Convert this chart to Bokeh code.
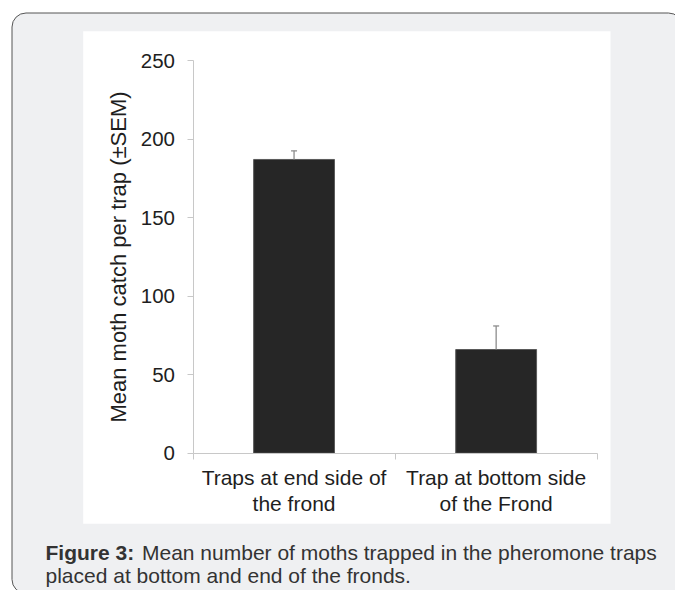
from bokeh.plotting import figure
from bokeh.models import (Range1d, FixedTicker, ColumnDataSource, Whisker, TeeHead,
                          BoxAnnotation, Label, LinearAxis)
from bokeh.embed import file_html
from bokeh.resources import INLINE

# ---- data ----
categories = ["Traps at end side of\nthe frond", "Trap at bottom side\nof the Frond"]
x_pos = [0.5, 1.5]
means = [187, 66]
sem = [5.5, 15]
y_ticks = [0, 50, 100, 150, 200, 250]
boundaries = [0, 1, 2]
y_label = "Mean moth catch per trap (±SEM)"
caption_bold = "Figure 3:"
caption_rest = "Mean number of moths trapped in the pheromone traps"
caption_line2 = "placed at bottom and end of the fronds."

W, H = 675, 590
FONT = "Liberation Sans"
AXIS_GRAY = "#c8c8c8"
TEXT = "#1e1e1e"

# The plot frame spans the whole canvas; the axes are pinned inside it.
# Chart area on the canvas: x 0..2 -> px 192.5..596.7, y 0..250 -> px 452.7..60
px_per_x = (596.7 - 192.5) / 2
px_per_y = (452.7 - 60.0) / 250
x0 = -192.5 / px_per_x
x1 = 2 + (W - 596.7) / px_per_x
y1 = 250 + 60.0 / px_per_y
y0 = -(H - 452.7) / px_per_y

p = figure(width=W, height=H, output_backend="svg", toolbar_location=None,
           x_range=Range1d(x0, x1), y_range=Range1d(y0, y1),
           x_axis_location=None, y_axis_location=None,
           min_border=0, min_border_left=0, min_border_right=0,
           min_border_top=0, min_border_bottom=0)
p.outline_line_color = None
p.grid.visible = False
p.border_fill_color = "white"
p.background_fill_color = "white"

# background panels
def canvas_box(l, r, t, b, **kw):
    return BoxAnnotation(left=l, right=r, top=t, bottom=b,
                         left_units="canvas", right_units="canvas",
                         top_units="canvas", bottom_units="canvas", **kw)

p.add_layout(canvas_box(11.5, 682, 12.5, 593, fill_color="#eff0f2", fill_alpha=1,
                        line_color="#555555", line_width=1, line_alpha=1,
                        border_radius=14, level="underlay"))
p.add_layout(canvas_box(82.7, 610, 30.7, 523.3, fill_color="white", fill_alpha=1,
                        line_color=None, level="underlay"))

# bars
src = ColumnDataSource(dict(x=x_pos, mean=means,
                            upper=[m + s for m, s in zip(means, sem)]))
p.vbar(x="x", top="mean", bottom=0, width=0.4, source=src,
       fill_color="#262626", line_color="#5a5a5a", line_width=1)

p.add_layout(Whisker(base="x", lower="mean", upper="upper", dimension="height",
                     source=src, line_color="#8c8c8c", line_width=1.3,
                     upper_head=TeeHead(size=6, line_color="#8c8c8c", line_width=1.3),
                     lower_head=None, level="glyph"))

# y axis
ya = LinearAxis(fixed_location=0, bounds=(0, 250))
ya.ticker = FixedTicker(ticks=y_ticks)
ya.axis_line_color = AXIS_GRAY
ya.major_tick_line_color = AXIS_GRAY
ya.major_tick_out = 6
ya.major_tick_in = 0
ya.minor_tick_line_color = None
ya.major_label_text_font = FONT
ya.major_label_text_font_size = "20.5px"
ya.major_label_text_color = TEXT
ya.major_label_standoff = 12
ya.axis_label = y_label
ya.axis_label_text_font = FONT
ya.axis_label_text_font_size = "22px"
ya.axis_label_text_font_style = "normal"
ya.axis_label_text_color = TEXT
ya.axis_label_standoff = 7
p.add_layout(ya, "left")

# x axis
xa = LinearAxis(fixed_location=0, bounds=(0, 2))
xa.ticker = FixedTicker(ticks=x_pos, minor_ticks=boundaries)
xa.major_label_overrides = {x: c for x, c in zip(x_pos, categories)}
xa.axis_line_color = AXIS_GRAY
xa.major_tick_line_color = None
xa.major_tick_out = 0
xa.major_tick_in = 0
xa.minor_tick_line_color = AXIS_GRAY
xa.minor_tick_out = 6
xa.minor_tick_in = 0
xa.major_label_text_font = FONT
xa.major_label_text_font_size = "21px"
xa.major_label_text_color = TEXT
xa.major_label_text_line_height = 1.1
xa.major_label_standoff = 7
p.add_layout(xa, "below")

# caption
p.add_layout(Label(x=45, y=552, x_units="canvas", y_units="canvas",
                   text=caption_bold, text_font=FONT, text_font_size="21px",
                   text_font_style="bold", text_color="#333333",
                   text_baseline="middle"))
p.add_layout(Label(x=141.5, y=552, x_units="canvas", y_units="canvas",
                   text=caption_rest, text_font=FONT, text_font_size="21px",
                   text_color="#333333", text_baseline="middle"))
p.add_layout(Label(x=45, y=575, x_units="canvas", y_units="canvas",
                   text=caption_line2, text_font=FONT, text_font_size="21px",
                   text_color="#333333", text_baseline="middle"))

open("out.html", "w").write(file_html(p, INLINE))
